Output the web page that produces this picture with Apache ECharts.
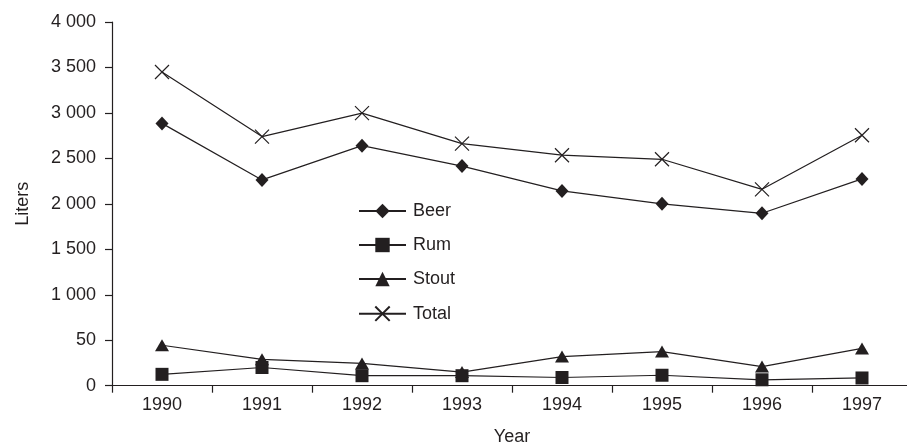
<!DOCTYPE html>
<html>
<head>
<meta charset="utf-8">
<script src="https://cdn.jsdelivr.net/npm/echarts@6/dist/echarts.min.js"></script>
<style>html,body{margin:0;padding:0;background:#fff}#c{width:907px;height:443px}</style>
</head>
<body>
<div id="c"></div>
<script>
var years = ['1990','1991','1992','1993','1994','1995','1996','1997'];
var beer  = [2885, 2263, 2640, 2415, 2142, 2000, 1896, 2274];
var rum   = [12.5, 20, 11, 11, 9, 11.5, 6.5, 8.5];
var stout = [44.5, 29, 24.5, 15, 32, 37.5, 21, 41];
var total = [3450, 2740, 2998, 2663, 2535, 2490, 2160, 2755];
var tickLabels = ['0','50','1 000','1 500','2 000','2 500','3 000','3 500','4 000'];

// broken axis: 0-50 -> [0,1], 50-1000 -> [1,2], 1000-4000 -> [2,8]
function brk(v){
  if (v <= 50) return v/50;
  if (v <= 1000) return 1 + (v-50)/950;
  return 2 + (v-1000)/500;
}
function tr(arr){ return arr.map(brk); }

var ink = '#231f20';
var font = 'Liberation Sans, Arial, sans-serif';
var chart = echarts.init(document.getElementById('c'), null, {renderer:'canvas'});
function ser(name, data, symbol, size, extra){
  var s = {
    name: name, type: 'line', data: tr(data), symbol: symbol, symbolSize: size,
    showSymbol: true, animation: false,
    lineStyle: {color: ink, width: 1.2},
    itemStyle: {color: ink, borderColor: ink, borderWidth: 0}
  };
  if (extra) Object.assign(s.itemStyle, extra);
  return s;
}
chart.setOption({
  backgroundColor: '#fff',
  animation: false,
  textStyle: {fontFamily: font, color: ink},
  grid: {left: 112, top: 22, width: 800, height: 363.7, containLabel: false, outerBoundsMode: 'none'},
  legend: {
    orient: 'vertical', left: 353, top: 197, itemWidth: 47, itemHeight: 18, itemGap: 16,
    textStyle: {fontSize: 18, color: ink, fontFamily: font, padding: [0,0,0,2]},
    data: ['Beer','Rum','Stout','Total']
  },
  xAxis: {
    type: 'category', data: years, boundaryGap: true,
    name: 'Year', nameLocation: 'middle', nameGap: 42,
    nameTextStyle: {fontSize: 18, color: ink, fontFamily: font},
    axisLine: {lineStyle: {color: ink, width: 1.2}},
    axisTick: {show: true, length: 7, lineStyle: {color: ink, width: 1.2}},
    axisLabel: {fontSize: 18, color: ink, margin: 10, fontFamily: font},
    splitLine: {show: false}
  },
  yAxis: {
    type: 'value', min: 0, max: 8, interval: 1,
    name: 'Liters', nameLocation: 'middle', nameGap: 80, nameRotate: 90,
    nameTextStyle: {fontSize: 18, color: ink, fontFamily: font},
    axisLine: {show: true, lineStyle: {color: ink, width: 1.2}},
    axisTick: {show: true, length: 7, lineStyle: {color: ink, width: 1.2}},
    axisLabel: {fontSize: 18, color: ink, margin: 16, fontFamily: font,
      formatter: function(v){ return tickLabels[Math.round(v)]; }},
    splitLine: {show: false}
  },
  series: [
    ser('Beer', beer, 'diamond', [13,14]),
    ser('Rum', rum, 'rect', 13),
    ser('Stout', stout, 'triangle', [14,12]),
    ser('Total', total, 'path://M0,0L10,10M10,0L0,10', 14, {color: 'none', borderColor: ink, borderWidth: 1.2})
  ]
});
</script>
</body>
</html>
